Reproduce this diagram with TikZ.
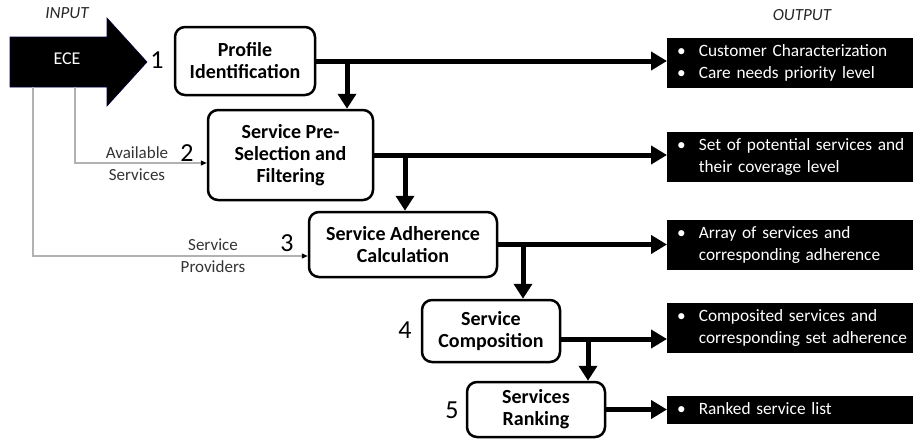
\documentclass[tikz,border=0pt]{standalone}
\usepackage{fontspec}
\setmainfont{Carlito}
\usetikzlibrary{arrows.meta}
\begin{document}
\begin{tikzpicture}[x=1pt,y=-1pt,
  proc/.style={draw=black,line width=2.5pt,rounded corners=10pt,fill=white,align=center,
    font=\fontsize{20}{22}\selectfont\bfseries,inner sep=0pt},
  outbox/.style={fill=black,text=white,anchor=west,minimum height=50pt,align=left,
    text width=246pt,inner xsep=0pt,inner ysep=0pt,font=\fontsize{17.3}{22}\selectfont},
  bigarrow/.style={line width=5pt,-{Triangle[length=16pt,width=18pt]}},
  downarrow/.style={line width=5pt,-{Triangle[length=15pt,width=18pt]}},
  greyline/.style={draw=black!30,line width=1.3pt,-{Triangle[length=6pt,width=5pt,color=black]}},
  numlabel/.style={font=\fontsize{26}{28}\selectfont},
  inlabel/.style={font=\fontsize{17}{22}\selectfont,align=center,text=black!80},
  headlabel/.style={font=\fontsize{17}{20}\selectfont\itshape,text=black!85},
]
\useasboundingbox (0,0) rectangle (914,439);

% input arrow
\fill[black,draw=black!75!blue,line width=0.6pt] (10,37) -- (107,37) -- (107,18) -- (147,62) -- (107,106) -- (107,87) -- (10,87) -- cycle;
\node[text=white,font=\fontsize{18}{20}\selectfont] (ece) at (67,59) {ECE};
\node[headlabel] (inp) at (67,13) {INPUT};
\node[headlabel] (outp) at (802,15) {OUTPUT};

% process boxes
\node[proc,minimum width=140pt,minimum height=68pt] (b1) at (245,61) {Profile\\Identification};
\node[proc,minimum width=165pt,minimum height=90pt] (b2) at (290.5,155) {Service Pre-\\Selection and\\Filtering};
\node[proc,minimum width=188pt,minimum height=65pt] (b3) at (403,244.5) {Service Adherence\\Calculation};
\node[proc,minimum width=138pt,minimum height=62pt] (b4) at (491,331) {Service\\Composition};
\node[proc,minimum width=138pt,minimum height=55pt] (b5) at (536,409.5) {Services\\Ranking};

% numbers
\node[numlabel] (n1) at (157,60) {1};
\node[numlabel] (n2) at (187,153) {2};
\node[numlabel] (n3) at (287,243) {3};
\node[numlabel] (n4) at (405,330) {4};
\node[numlabel] (n5) at (452,410) {5};

% output boxes
\node[outbox] (o1) at (667,63) {\begin{tabular}{@{\hspace{10pt}}l@{\hspace{13pt}}l@{}}\textbullet & Customer Characterization\\ \textbullet & Care needs priority level\end{tabular}};
\node[outbox] (o2) at (667,157) {\begin{tabular}{@{\hspace{10pt}}l@{\hspace{13pt}}l@{}}\textbullet & Set of potential services and\\ & their coverage level\end{tabular}};
\node[outbox] (o3) at (667,245) {\begin{tabular}{@{\hspace{10pt}}l@{\hspace{13pt}}l@{}}\textbullet & Array of services and\\ & corresponding adherence\end{tabular}};
\node[outbox] (o4) at (667,328) {\begin{tabular}{@{\hspace{10pt}}l@{\hspace{13pt}}l@{}}\textbullet & Composited services and\\ & corresponding set adherence\end{tabular}};
\node[outbox,minimum height=28pt] (o5) at (667,410) {\begin{tabular}{@{\hspace{10pt}}l@{\hspace{13pt}}l@{}}\textbullet & Ranked service list\end{tabular}};

% junction coordinates
\coordinate (j1) at (347,61);
\coordinate (j2) at (405,155);
\coordinate (j3) at (523,244.5);
\coordinate (j4) at (588,339);

% output arrows
\draw[bigarrow] (b1.east) -- (o1.west |- b1.east);
\draw[bigarrow] (b2.east) -- (o2.west |- b2.east);
\draw[bigarrow] (b3.east) -- (o3.west |- b3.east);
\draw[bigarrow] (b4.east |- j4) -- (o4.west |- j4);
\draw[bigarrow] (b5.east) -- (o5.west |- b5.east);

% down arrows
\draw[downarrow] (j1) -- (j1 |- b2.north);
\draw[downarrow] (j2) -- (j2 |- b3.north);
\draw[downarrow] (j3) -- (j3 |- b4.north);
\draw[downarrow] (j4) -- (j4 |- b5.north);

% grey input lines
\coordinate (g1) at (75,87);
\coordinate (g2) at (33,87);
\coordinate (h1) at (0,163);
\coordinate (h2) at (0,256);
\draw[greyline] (g1) |- (b2.west |- h1);
\draw[greyline] (g2) |- (b3.west |- h2);
\node[inlabel] (l1) at (137,164) {Available\\Services};
\node[inlabel] (l2) at (213,256) {Service\\Providers};
\end{tikzpicture}
\end{document}
